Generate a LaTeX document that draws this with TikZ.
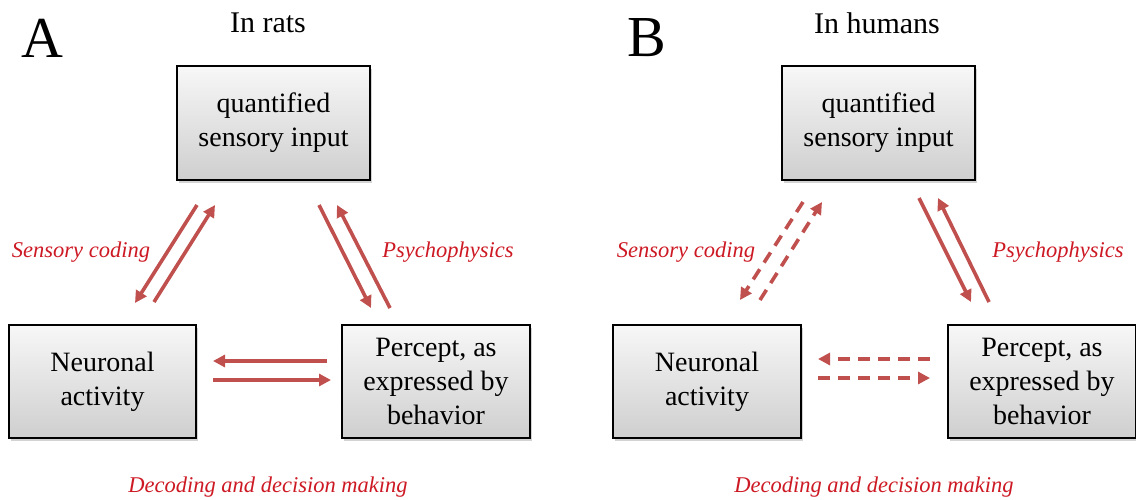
\documentclass[tikz,border=0pt]{standalone}
\usepackage{fontspec}
\setmainfont{Liberation Serif}
\usetikzlibrary{arrows.meta,shadows}
\definecolor{arr}{RGB}{192,80,77}
\definecolor{lab}{RGB}{205,25,35}
\tikzset{
  box/.style={draw=black, line width=1.8pt, top color=gray!6, bottom color=gray!38,
    minimum width=#1, minimum height=113pt, inner sep=0pt, align=center,
    font=\fontsize{28}{34}\selectfont,
    drop shadow={shadow xshift=1.5pt, shadow yshift=-2.5pt, opacity=0.35, fill=gray}},
  conn/.style={draw=arr, line width=3.6pt, -{Triangle[length=12pt,width=12pt]}},
  dconn/.style={conn, dash pattern=on 12pt off 8pt},
  lbl/.style={text=lab, font=\fontsize{22.5}{26}\itshape\selectfont},
  ttl/.style={font=\fontsize{30}{34}\selectfont},
  letter/.style={font=\fontsize{58}{60}\selectfont}
}
\begin{document}
\begin{tikzpicture}[x=1pt,y=-1pt]
\useasboundingbox (0,0) rectangle (1136,499);
% ---------- Panel A ----------
\node[letter] (LA) at (42,38) {A};
\node[ttl] (TA) at (268,23) {In rats};
\node[box=193pt, minimum height=114pt] (QA) at (273.5,123) {quantified\\sensory input};
\node[box=187pt] (NA) at (102.5,381.5) {Neuronal\\activity};
\node[box=188pt] (PA) at (436,381.5) {Percept, as\\expressed by\\behavior};
\coordinate (a1) at (197,205); \coordinate (a2) at (135,303);
\coordinate (a3) at (154,302); \coordinate (a4) at (215,205);
\coordinate (a5) at (319,205); \coordinate (a6) at (371,308);
\coordinate (a7) at (390,308); \coordinate (a8) at (337,205);
\coordinate (a9) at (327,361); \coordinate (a10) at (213,361);
\coordinate (a11) at (213,380); \coordinate (a12) at (331,380);
\draw[conn] (a1) -- (a2);
\draw[conn] (a3) -- (a4);
\draw[conn] (a5) -- (a6);
\draw[conn] (a7) -- (a8);
\draw[conn] (a9) -- (a10);
\draw[conn] (a11) -- (a12);
\node[lbl] (SCA) at (81,252) {Sensory coding};
\node[lbl] (PPA) at (448,252) {Psychophysics};
\node[lbl] (DDA) at (268,487) {Decoding and decision making};
% ---------- Panel B ----------
\node[letter] (LB) at (647,38) {B};
\node[ttl] (TB) at (877,23) {In humans};
\node[box=193pt, minimum height=114pt] (QB) at (878.5,123) {quantified\\sensory input};
\node[box=188pt] (NB) at (707,381.5) {Neuronal\\activity};
\node[box=188pt] (PB) at (1042,381.5) {Percept, as\\expressed by\\behavior};
\coordinate (b1) at (803,202); \coordinate (b2) at (740,300);
\coordinate (b3) at (760,300); \coordinate (b4) at (822,202);
\coordinate (b5) at (919,198); \coordinate (b6) at (971,302);
\coordinate (b7) at (989,302); \coordinate (b8) at (938,198);
\coordinate (b9) at (930,359); \coordinate (b10) at (818,359);
\coordinate (b11) at (818,378); \coordinate (b12) at (930,378);
\draw[dconn] (b1) -- (b2);
\draw[dconn] (b3) -- (b4);
\draw[conn] (b5) -- (b6);
\draw[conn] (b7) -- (b8);
\draw[dconn] (b9) -- (b10);
\draw[dconn] (b11) -- (b12);
\node[lbl] (SCB) at (686,252) {Sensory coding};
\node[lbl] (PPB) at (1058,252) {Psychophysics};
\node[lbl] (DDB) at (874,487) {Decoding and decision making};
\end{tikzpicture}
\end{document}
